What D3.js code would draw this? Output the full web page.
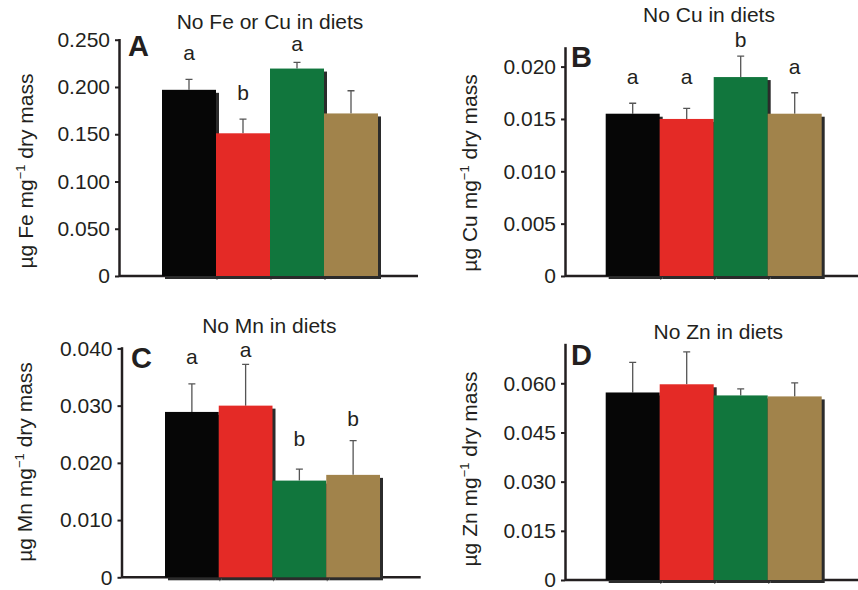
<!DOCTYPE html>
<html>
<head>
<meta charset="utf-8">
<script src="https://cdn.jsdelivr.net/npm/d3@7"></script>
<style>
  body { margin: 0; background: #fff; }
  svg { display: block; font-family: 'Liberation Sans', Arial, sans-serif; }
</style>
</head>
<body>
<div id="chart"></div>
<script>
// Four diet groups, one colour each
const groups = ['g1', 'g2', 'g3', 'g4'];
const barColors = ['#060606', '#e42a26', '#11763d', '#a1834b'];

// A: Fe
const feMeans = [0.197, 0.151, 0.2195, 0.172];
const feErrs = [0.011, 0.015, 0.0065, 0.024];
const feLetters = ['a', 'b', 'a', ''];
const feLetterAt = [0.2283, 0.186, 0.2378, 0];
const feTicks = [0, 0.05, 0.1, 0.15, 0.2, 0.25];

// B: Cu
const cuMeans = [0.0155, 0.0150, 0.0190, 0.0155];
const cuErrs = [0.001, 0.001, 0.002, 0.002];
const cuLetters = ['a', 'a', 'b', 'a'];
const cuLetterAt = [0.01836, 0.01836, 0.02183, 0.01931];
const cuTicks = [0, 0.005, 0.01, 0.015, 0.02];

// C: Mn
const mnMeans = [0.0289, 0.0300, 0.0169, 0.0179];
const mnErrs = [0.0049, 0.0072, 0.002, 0.006];
const mnLetters = ['a', 'a', 'b', 'b'];
const mnLetterAt = [0.0372, 0.0385, 0.0230, 0.0264];
const mnTicks = [0, 0.01, 0.02, 0.03, 0.04];

// D: Zn
const znMeans = [0.0572, 0.0597, 0.0563, 0.0560];
const znErrs = [0.0092, 0.0099, 0.002, 0.0041];
const znLetters = ['', '', '', ''];
const znLetterAt = [0, 0, 0, 0];
const znTicks = [0, 0.015, 0.03, 0.045, 0.06];

const ink = '#231f20';
const width = 858, height = 590;

const svg = d3.select('#chart').append('svg')
  .attr('width', width)
  .attr('height', height);

const panels = [
  { tag: 'A', title: 'No Fe or Cu in diets', el: 'Fe', means: feMeans, errs: feErrs, letters: feLetters, letterAt: feLetterAt, ticks: feTicks, yMax: 0.2513,
    axisX: 119, y0: 276, yTop: 38.5, band: [162, 378], xEnd: 418, titleX: 270, titleY: 29, tagX: 128, tagY: 56, labelX: 33, labelY: 171 },
  { tag: 'B', title: 'No Cu in diets', el: 'Cu', means: cuMeans, errs: cuErrs, letters: cuLetters, letterAt: cuLetterAt, ticks: cuTicks, yMax: 0.0219,
    axisX: 565, y0: 276, yTop: 46.7, band: [605.7, 821.7], xEnd: 858, titleX: 709, titleY: 22, tagX: 571, tagY: 66.5, labelX: 476.5, labelY: 173 },
  { tag: 'C', title: 'No Mn in diets', el: 'Mn', means: mnMeans, errs: mnErrs, letters: mnLetters, letterAt: mnLetterAt, ticks: mnTicks, yMax: 0.0403,
    axisX: 121.5, y0: 577.3, yTop: 346.7, band: [165, 380], xEnd: 420.7, titleX: 269.3, titleY: 333, tagX: 131, tagY: 368, labelX: 31.7, labelY: 462 },
  { tag: 'D', title: 'No Zn in diets', el: 'Zn', means: znMeans, errs: znErrs, letters: znLetters, letterAt: znLetterAt, ticks: znTicks, yMax: 0.0722,
    axisX: 565, y0: 580, yTop: 343.3, band: [605.7, 821.7], xEnd: 858, titleX: 718.3, titleY: 339.3, tagX: 571, tagY: 365, labelX: 476.5, labelY: 469 }
];

const tickFmt = d => d === 0 ? '0' : d3.format('.3f')(d);

panels.forEach(p => {
  const g = svg.append('g');

  const y = d3.scaleLinear().domain([0, p.yMax]).range([p.y0, p.yTop]);
  const x = d3.scaleBand().domain(groups).range(p.band).padding(0);

  const rows = groups.map((k, i) => ({
    key: k, mean: p.means[i], err: p.errs[i], letter: p.letters[i], letterAt: p.letterAt[i], color: barColors[i]
  }));

  // x axis line
  g.append('line')
    .attr('x1', p.axisX).attr('x2', p.xEnd)
    .attr('y1', p.y0).attr('y2', p.y0)
    .attr('stroke', ink)
    .attr('stroke-width', 2.5);

  // small grey ticks at the group boundaries
  g.selectAll('.xtick')
    .data(groups.slice(1))
    .enter()
    .append('line')
    .attr('x1', d => x(d) + 1).attr('x2', d => x(d) + 1)
    .attr('y1', p.y0).attr('y2', p.y0 + 4)
    .attr('stroke', '#888')
    .attr('stroke-width', 1.2);

  // y axis
  const yAxis = g.append('g')
    .attr('transform', `translate(${p.axisX},0)`)
    .call(d3.axisLeft(y).tickValues(p.ticks).tickFormat(tickFmt).tickSize(4).tickSizeOuter(0).tickPadding(5));
  yAxis.select('.domain').attr('stroke', ink).attr('stroke-width', 2.5);
  yAxis.selectAll('.tick line').attr('stroke', ink).attr('stroke-width', 2);
  yAxis.selectAll('.tick text')
    .attr('fill', ink)
    .style('font-size', '21px')
    .style('font-family', "'Liberation Sans', Arial, sans-serif");

  // drop shadows behind the bars
  g.selectAll('.shadow')
    .data(rows)
    .enter()
    .append('rect')
    .attr('x', d => x(d.key) + 3)
    .attr('y', d => y(d.mean) + 3)
    .attr('width', x.bandwidth())
    .attr('height', d => p.y0 - y(d.mean))
    .attr('fill', '#2b2b2b');

  // error bars (upper half only)
  g.selectAll('.err')
    .data(rows)
    .enter()
    .append('path')
    .attr('d', d => {
      const cx = x(d.key) + x.bandwidth() / 2;
      const top = y(d.mean + d.err);
      return `M${cx},${y(d.mean)}V${top}M${cx - 3.5},${top}H${cx + 3.5}`;
    })
    .attr('fill', 'none')
    .attr('stroke', '#555')
    .attr('stroke-width', 1.3);

  // bars
  g.selectAll('.bar')
    .data(rows)
    .enter()
    .append('rect')
    .attr('x', d => x(d.key))
    .attr('y', d => y(d.mean))
    .attr('width', x.bandwidth())
    .attr('height', d => p.y0 - y(d.mean))
    .attr('fill', d => d.color);

  // significance letters
  g.selectAll('.letter')
    .data(rows.filter(d => d.letter))
    .enter()
    .append('text')
    .attr('x', d => x(d.key) + x.bandwidth() / 2)
    .attr('y', d => y(d.letterAt))
    .attr('text-anchor', 'middle')
    .attr('fill', ink)
    .style('font-size', '21px')
    .text(d => d.letter);

  // title
  g.append('text')
    .attr('x', p.titleX)
    .attr('y', p.titleY)
    .attr('text-anchor', 'middle')
    .attr('fill', ink)
    .style('font-size', '21px')
    .text(p.title);

  // panel tag
  g.append('text')
    .attr('x', p.tagX)
    .attr('y', p.tagY)
    .attr('fill', ink)
    .style('font-size', '29px')
    .style('font-weight', 'bold')
    .text(p.tag);

  // y label
  const lab = g.append('text')
    .attr('transform', `translate(${p.labelX},${p.labelY}) rotate(-90)`)
    .attr('text-anchor', 'middle')
    .attr('fill', ink)
    .style('font-size', '21px');
  lab.append('tspan').text(`\u00b5g ${p.el} mg`);
  lab.append('tspan').attr('dy', -8).style('font-size', '13px').text('\u22121');
  lab.append('tspan').attr('dy', 8).text(' dry mass');
});
</script>
</body>
</html>
